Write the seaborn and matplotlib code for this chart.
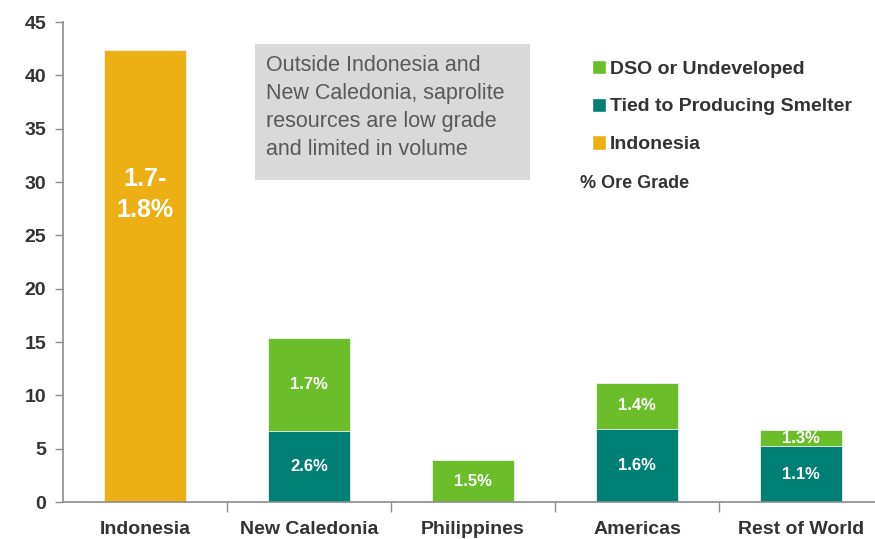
import numpy as np
import pandas as pd
import matplotlib
matplotlib.use('Agg')
import matplotlib.pyplot as plt
from matplotlib.patches import Patch, Rectangle
import seaborn as sns

# Data (Mt of saprolite resources, % ore grade labels)
regions = ['Indonesia', 'New Caledonia', 'Philippines', 'Americas', 'Rest of World']
tied_smelter = [0, 6.7, 0, 6.85, 5.25]
dso_undeveloped = [0, 8.7, 3.9, 4.35, 1.5]
indonesia = [42.4, 0, 0, 0, 0]
tied_grade = ['', '2.6%', '', '1.6%', '1.1%']
dso_grade = ['', '1.7%', '1.5%', '1.4%', '1.3%']
indonesia_grade = '1.7-\n1.8%'
y_ticks = [0, 5, 10, 15, 20, 25, 30, 35, 40, 45]

GREEN = '#6bbd2a'
TEAL = '#007f75'
GOLD = '#ecb015'
TEXT = '#333333'

sns.set_style('white')
plt.rcParams['font.family'] = ['Liberation Sans', 'DejaVu Sans']

df = pd.DataFrame({
    'region': regions,
    'tied': tied_smelter,
    'dso': dso_undeveloped,
    'indo': indonesia,
})
df['total'] = df['tied'] + df['dso']

fig = plt.figure(figsize=(8.75, 5.39), dpi=100)
ax = fig.add_axes([0.072, 0.0686, 0.928, 0.8905])

bar_kw = dict(width=0.5, saturation=1, ax=ax, order=regions,
              edgecolor='#f2f2f2', linewidth=0.6)
sns.barplot(data=df, x='region', y='total', color=GREEN, **bar_kw)
sns.barplot(data=df, x='region', y='tied', color=TEAL, **bar_kw)
sns.barplot(data=df, x='region', y='indo', color=GOLD, **bar_kw)

# value labels
for i in range(len(regions)):
    if tied_grade[i]:
        ax.text(i, df['tied'][i] / 2, tied_grade[i], ha='center', va='center',
                color='white', fontsize=12, fontweight='bold')
    if dso_grade[i]:
        ax.text(i, df['tied'][i] + df['dso'][i] / 2, dso_grade[i],
                ha='center', va='center', color='white', fontsize=12,
                fontweight='bold')
ax.text(0, indonesia[0] * 0.68, indonesia_grade, ha='center', va='center',
        color='white', fontsize=18, fontweight='bold', linespacing=1.4)

# axes styling
ax.set_xlim(-0.5, 4.45)
ax.set_ylim(0, 45)
ax.set_yticks(y_ticks)
ax.set_xlabel('')
ax.set_ylabel('')
for side in ['top', 'right']:
    ax.spines[side].set_visible(False)
for side in ['left', 'bottom']:
    ax.spines[side].set_color('#8c8c8c')
    ax.spines[side].set_linewidth(1.2)

ax.tick_params(axis='y', direction='out', length=6, width=1, color='#8c8c8c',
               pad=6, labelsize=14, labelcolor=TEXT, left=True)
ax.tick_params(axis='x', which='major', length=0, pad=14, labelsize=14,
               labelcolor=TEXT)
ax.set_xticks([0.5, 1.5, 2.5, 3.5], minor=True)
ax.tick_params(axis='x', which='minor', direction='out', length=7, width=1,
               color='#8c8c8c', bottom=True)
for lab in ax.get_xticklabels() + ax.get_yticklabels():
    lab.set_fontweight('bold')

# annotation box
W, H = 875, 539
fig.patches.append(Rectangle((255 / W, 1 - 180 / H), 275 / W, 136 / H,
                             transform=fig.transFigure, facecolor='#d9d9d9',
                             edgecolor='none', zorder=0))
fig.text(266 / W, 1 - 107.5 / H,
         'Outside Indonesia and\nNew Caledonia, saprolite\nresources are low grade\nand limited in volume',
         ha='left', va='center', fontsize=15.5, color='#595959', linespacing=1.42)

# legend
handles = [Patch(facecolor=GREEN, label='DSO or Undeveloped'),
           Patch(facecolor=TEAL, label='Tied to Producing Smelter'),
           Patch(facecolor=GOLD, label='Indonesia')]
leg = fig.legend(handles=handles, loc='upper left', bbox_to_anchor=(0.665, 0.907),
                 frameon=False, handlelength=0.75, handleheight=0.75,
                 handletextpad=0.2, labelspacing=1.02, borderpad=0,
                 prop={'size': 14, 'weight': 'bold'})
for t in leg.get_texts():
    t.set_color(TEXT)
fig.text(0.663, 1 - 183 / H, '% Ore Grade', ha='left', va='center',
         fontsize=13, fontweight='bold', color=TEXT)

fig.savefig('out.png', dpi=100)
